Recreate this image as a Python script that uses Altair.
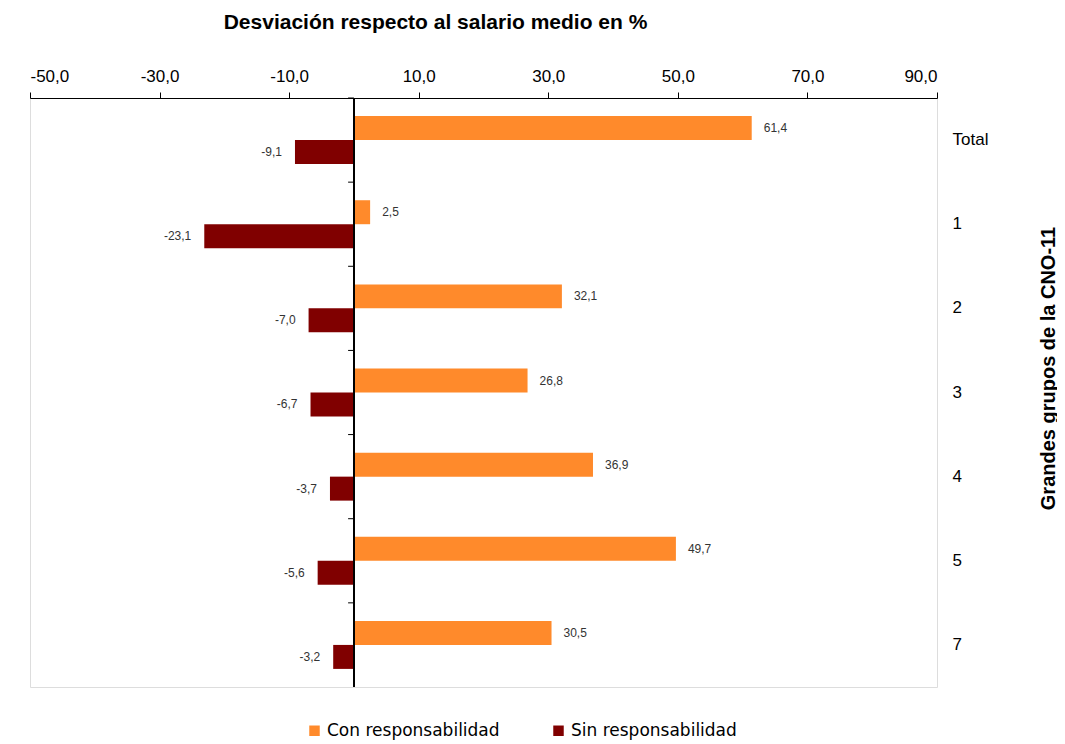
import altair as alt
import pandas as pd

categories = ["Total", "1", "2", "3", "4", "5", "7"]
con_resp = [61.4, 2.5, 32.1, 26.8, 36.9, 49.7, 30.5]
sin_resp = [-9.1, -23.1, -7.0, -6.7, -3.7, -5.6, -3.2]
series = ["Con responsabilidad", "Sin responsabilidad"]
colors = ["#FF8A2B", "#800000"]
x_ticks = [-50, -30, -10, 10, 30, 50, 70, 90]

rows = []
for c, a, b in zip(categories, con_resp, sin_resp):
    rows.append({"cat": c, "serie": series[0], "v": a})
    rows.append({"cat": c, "serie": series[1], "v": b})
df = pd.DataFrame(rows)
cats_df = pd.DataFrame({"cat": categories})

W, H = 907, 589
step = H / len(categories)
FONT = "Liberation Sans"
FMT = "replace(replace(format({v}, '.1f'), '.', ','), '\u2212', '-')"

yscale = alt.Scale(domain=categories, paddingInner=0.43, paddingOuter=0.215)
y_enc = alt.Y("cat:N", scale=yscale, sort=categories,
              axis=alt.Axis(orient="right", title="Grandes grupos de la CNO-11",
                            domain=False, ticks=False, labelPadding=15,
                            labelFontSize=17, labelColor="#000", labelFont=FONT,
                            titleFontSize=20, titleFont=FONT, titleFontWeight="bold",
                            titleColor="#000", titleAngle=270, titleX=111, titleY=270,
                            titleAlign="center", titleBaseline="middle"))
x_scale = alt.Scale(domain=[-50, 90], nice=False, zero=False)
x_enc = alt.X("v:Q", scale=x_scale,
              axis=alt.Axis(orient="top", values=x_ticks, grid=False,
                            title="Desviación respecto al salario medio en %",
                            labelExpr=FMT.format(v="datum.value"),
                            labelFontSize=17, labelFont=FONT, labelColor="#000",
                            domainColor="#000", domainWidth=1.2, tickColor="#000",
                            tickSize=6, labelPadding=7,
                            titleFontSize=21, titleFont=FONT, titleFontWeight="bold",
                            titleColor="#000", titleX=405, titleY=-66,
                            titleAlign="center"))

base = alt.Chart(df)
yoff = alt.YOffset("serie:N", sort=series, scale=alt.Scale(paddingInner=0, paddingOuter=0))

bars = base.mark_bar().encode(
    x=x_enc,
    y=y_enc,
    yOffset=yoff,
    color=alt.Color("serie:N", sort=series,
                    scale=alt.Scale(domain=series, range=colors),
                    legend=alt.Legend(title=None, orient="none", legendX=276, legendY=624,
                                      direction="horizontal", symbolType="square",
                                      symbolSize=110, symbolStrokeWidth=0,
                                      labelFontSize=17, labelFont="DejaVu Sans",
                                      labelLimit=400, labelColor="#000",
                                      columnPadding=50, labelOffset=4)),
)

lbl = base.transform_calculate(lab=FMT.format(v="datum.v"))
pos_text = lbl.transform_filter("datum.v >= 0").mark_text(
    align="left", dx=12, fontSize=12, font=FONT, color="#333"
).encode(
    x=alt.X("v:Q", scale=x_scale), y=alt.Y("cat:N", scale=yscale, sort=categories),
    yOffset=yoff, text="lab:N",
)
neg_text = lbl.transform_filter("datum.v < 0").mark_text(
    align="right", dx=-13, fontSize=12, font=FONT, color="#333"
).encode(
    x=alt.X("v:Q", scale=x_scale), y=alt.Y("cat:N", scale=yscale, sort=categories),
    yOffset=yoff, text="lab:N",
)

zero = alt.Chart(cats_df).mark_rule(color="#000", strokeWidth=1.5).encode(
    x=alt.datum(0), y=alt.value(0), y2=alt.value(H)
)
ticks = alt.Chart(cats_df).mark_rule(color="#000", strokeWidth=1, yOffset=-step / 2).encode(
    x=alt.datum(0), x2=alt.datum(-0.9),
    y=alt.Y("cat:N", scale=yscale, sort=categories),
)

chart = alt.layer(bars, pos_text, neg_text, zero, ticks).properties(
    width=W, height=H,
    autosize=alt.AutoSizeParams(type="none"),
    padding={"left": 22, "top": 90, "right": 120, "bottom": 57},
).configure_view(stroke="#888", strokeWidth=1).configure(background="white")

chart.save("out.html", embed_options={"renderer": "svg", "actions": False})
